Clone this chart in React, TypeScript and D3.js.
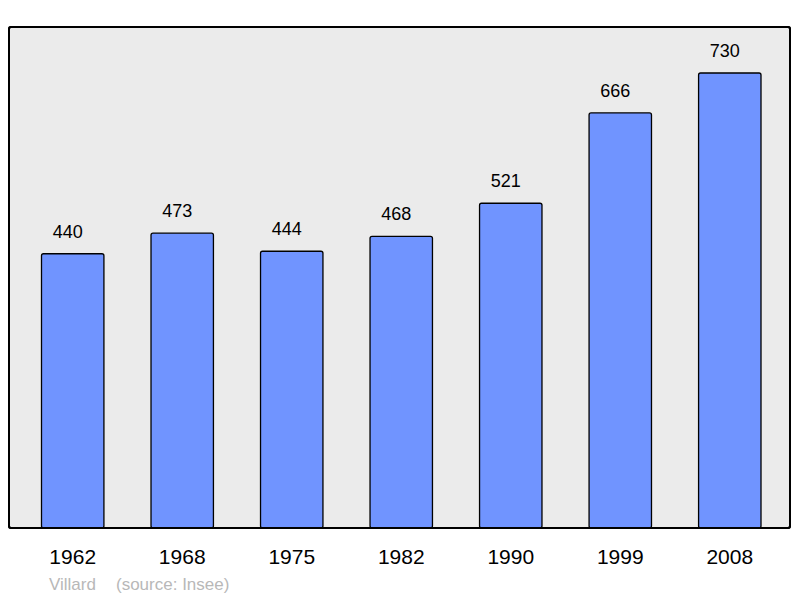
import React from "react";
import * as d3 from "d3";

const years = ["1962", "1968", "1975", "1982", "1990", "1999", "2008"];
const population = [440, 473, 444, 468, 521, 666, 730];
const placeName = "Villard";
const sourceText = "(source: Insee)";

export default function App() {
  const W = 800, H = 598;
  const frame = { x: 9, y: 27, w: 781, h: 501 };
  const x = d3.scaleBand<string>().domain(years).range([18.5, 784]).paddingInner(0.43).paddingOuter(0.21);
  const y = d3.scaleLinear().domain([0, 730]).range([528, 73]);
  const font = "'Liberation Sans', Arial, sans-serif";
  return (
    <svg width={W} height={H} style={{ position: "absolute", left: 0, top: 0 }}>
      <rect x={frame.x} y={frame.y} width={frame.w} height={frame.h} rx={2} fill="#ebebeb" stroke="#000" strokeWidth={2} />
      {years.map((yr, i) => {
        const bx = x(yr)!;
        const bw = x.bandwidth();
        const top = y(population[i]);
        return (
          <g key={yr}>
            <rect x={bx} y={top} width={bw} height={528 - top} rx={2} fill="#7094ff" stroke="#000" strokeWidth={1.3} />
            <text x={bx + bw / 2 - 5} y={top - 16} textAnchor="middle" fontFamily={font} fontSize={18} fill="#000">{population[i]}</text>
            <text x={bx + bw / 2} y={564} textAnchor="middle" fontFamily={font} fontSize={21} fill="#000">{yr}</text>
          </g>
        );
      })}
      <rect x={frame.x} y={frame.y} width={frame.w} height={frame.h} rx={2} fill="none" stroke="#000" strokeWidth={2} />
      <text x={49} y={590} fontFamily={font} fontSize={17} fill="#b8b8b8">{placeName}</text>
      <text x={116} y={590} fontFamily={font} fontSize={17} fill="#b8b8b8">{sourceText}</text>
    </svg>
  );
}
